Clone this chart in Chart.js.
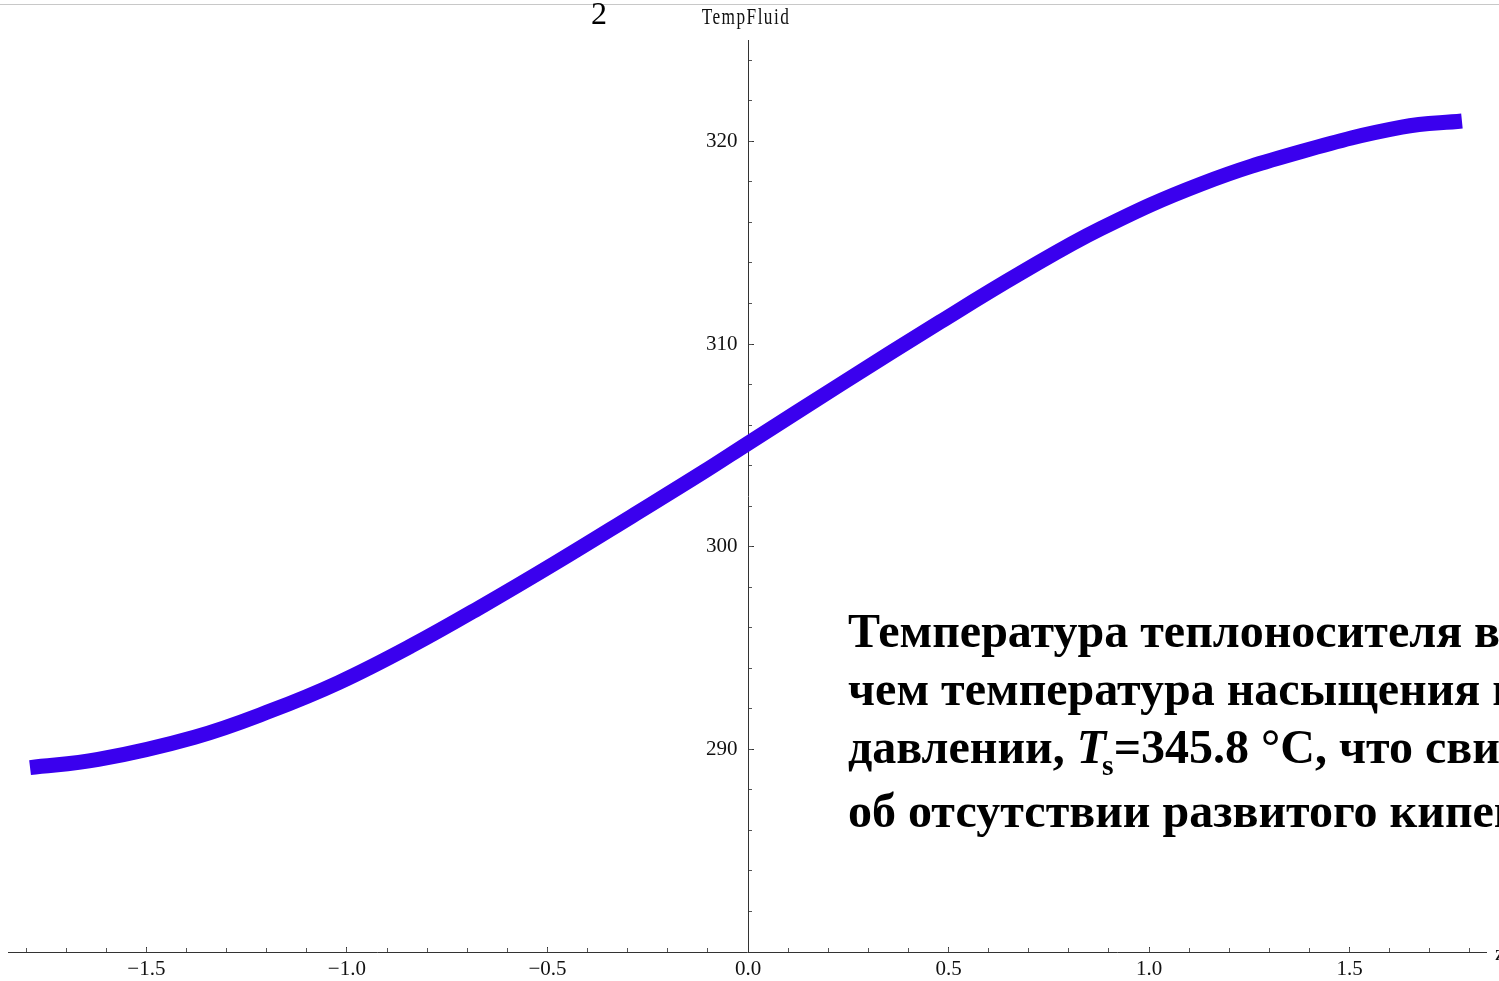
<!DOCTYPE html>
<html>
<head>
<meta charset="utf-8">
<script src="https://cdn.jsdelivr.net/npm/chart.js@4.4.1/dist/chart.umd.min.js"></script>
<style>
html,body{margin:0;padding:0;background:#fff;overflow:hidden}
#wrap{position:relative;width:1499px;height:981px;overflow:hidden;background:#fff}
#chart{position:absolute;left:0;top:0}
.topline{position:absolute;left:0;top:4px;width:1499px;height:1px;background:#c8c8c8}
.pnum{position:absolute;left:591px;top:-5px;font:32px "Liberation Serif","Times New Roman",serif;color:#000}
.ylab{position:absolute;left:746px;top:3px;transform:translateX(-50%) scaleX(0.72);font:24px "Liberation Serif","Times New Roman",serif;letter-spacing:2px;color:#111;white-space:nowrap}
.zlab{position:absolute;left:1495px;top:940px;font:22px "Liberation Serif","Times New Roman",serif;color:#111}
.note{position:absolute;left:848px;top:602px;font:bold 48px/58px "Liberation Serif","Times New Roman",serif;color:#000;white-space:nowrap}
.note sub{font-size:0.62em;vertical-align:baseline;position:relative;top:0.42em;margin-left:-4px}
</style>
</head>
<body>
<div id="wrap">
  <canvas id="chart" width="1499" height="981"></canvas>
  <div class="topline"></div>
  <div class="pnum">2</div>
  <div class="ylab">TempFluid</div>
  <div class="zlab">z</div>
  <div class="note">Температура теплоносителя в активной зоне ниже,<br>чем температура насыщения при данном<br>давлении, <i>T</i><sub>s</sub>=345.8 °C, что свидетельствует<br>об отсутствии развитого кипения.</div>
</div>
<script>
// ---- data ----
const zValues    = [-1.79, -1.62, -1.38, -1.19, -1.02, -0.84, -0.66, -0.48, -0.29, -0.11, 0, 0.23, 0.48, 0.68, 0.88, 1.13, 1.38, 1.63, 1.78];
const tempValues = [289.1, 289.5, 290.6, 291.9, 293.3, 295.1, 297.1, 299.2, 301.5, 303.7, 305.1, 308.0, 311.1, 313.5, 315.7, 317.9, 319.5, 320.7, 321.0];

const xTickValues = [-1.5, -1.0, -0.5, 0, 0.5, 1.0, 1.5];
const xTickLabels = ['\u22121.5', '\u22121.0', '\u22120.5', '0.0', '0.5', '1.0', '1.5'];
const yTickValues = [290, 300, 310, 320];
const yTickLabels = ['290', '300', '310', '320'];

const xLimits = [-1.845, 1.84];
const yLimits = [280, 325];
const xMinorStep = 0.1;
const yMinorStep = 2;

// ---- chart ----
const tickFont = {family: '"Liberation Serif","Times New Roman",serif', size: 21};
const axisColor = '#333';

const points = zValues.map((z, i) => ({x: z, y: tempValues[i]}));

new Chart(document.getElementById('chart'), {
  type: 'line',
  data: {
    datasets: [{
      data: points,
      borderColor: '#3a00ee',
      borderWidth: 15,
      borderCapStyle: 'butt',
      borderJoinStyle: 'round',
      pointRadius: 0,
      fill: false,
      tension: 0.4,
      cubicInterpolationMode: 'default'
    }]
  },
  options: {
    responsive: false,
    animation: false,
    devicePixelRatio: 1,
    layout: {padding: {left: 8, right: 13, top: 40, bottom: 29}},
    plugins: {legend: {display: false}, tooltip: {enabled: false}, title: {display: false}},
    scales: {
      x: {
        type: 'linear', min: xLimits[0], max: xLimits[1],
        position: {y: yLimits[0]},
        afterBuildTicks: s => { s.ticks = xTickValues.map(v => ({value: v})); },
        ticks: {
          callback: v => { const i = xTickValues.indexOf(v); return i >= 0 ? xTickLabels[i] : ''; },
          font: tickFont, color: '#111', padding: 11, maxRotation: 0, autoSkip: false
        },
        grid: {drawOnChartArea: false, drawTicks: true, tickLength: -6, tickColor: axisColor, tickWidth: 1},
        border: {display: true, color: axisColor, width: 1}
      },
      xMinor: {
        type: 'linear', axis: 'x', min: xLimits[0], max: xLimits[1],
        position: {y: yLimits[0]},
        ticks: {display: false, stepSize: xMinorStep, includeBounds: false},
        grid: {drawOnChartArea: false, drawTicks: true, tickLength: -4, tickColor: '#555', tickWidth: 1},
        border: {display: false}
      },
      y: {
        type: 'linear', min: yLimits[0], max: yLimits[1],
        position: {x: 0},
        afterBuildTicks: s => { s.ticks = yTickValues.map(v => ({value: v})); },
        ticks: {
          callback: v => { const i = yTickValues.indexOf(v); return i >= 0 ? yTickLabels[i] + '\u2002' : ''; },
          font: tickFont, color: '#111', padding: 16, autoSkip: false
        },
        grid: {drawOnChartArea: false, drawTicks: true, tickLength: -6, tickColor: axisColor, tickWidth: 1},
        border: {display: true, color: axisColor, width: 1}
      },
      yMinor: {
        type: 'linear', axis: 'y', min: yLimits[0], max: yLimits[1],
        position: {x: 0},
        ticks: {display: false, stepSize: yMinorStep, includeBounds: false},
        grid: {drawOnChartArea: false, drawTicks: true, tickLength: -4, tickColor: '#555', tickWidth: 1},
        border: {display: false}
      }
    }
  }
});
</script>
</body>
</html>
